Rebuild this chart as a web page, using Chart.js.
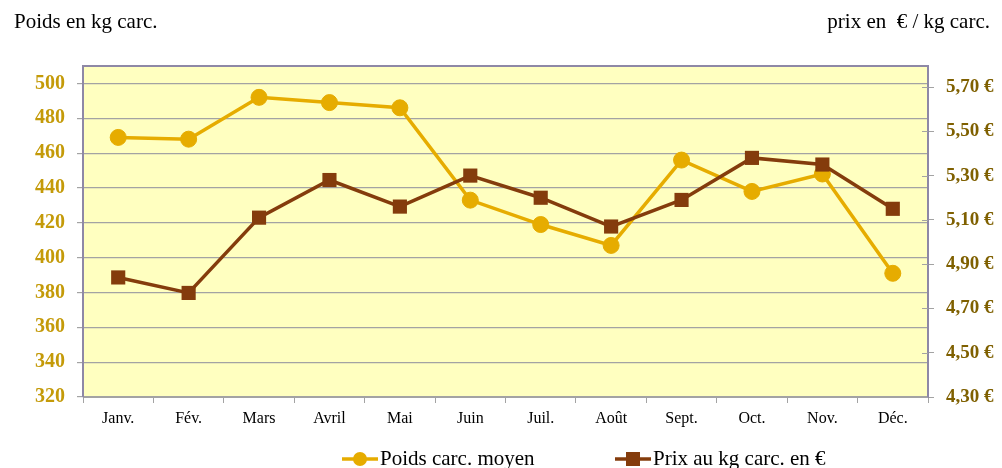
<!DOCTYPE html>
<html lang="fr">
<head>
<meta charset="utf-8">
<title>Poids et prix des carcasses</title>
<script src="https://cdn.jsdelivr.net/npm/chart.js@4/dist/chart.umd.min.js"></script>
<style>
  html, body { margin: 0; padding: 0; background: #ffffff; }
  #wrap { position: relative; width: 1002px; height: 468px; }
</style>
</head>
<body>
<div id="wrap"><canvas id="chart" width="1002" height="468"></canvas></div>
<script>
// Mois
const months = ['Janv.', 'Fév.', 'Mars', 'Avril', 'Mai', 'Juin', 'Juil.', 'Août', 'Sept.', 'Oct.', 'Nov.', 'Déc.'];
// Poids carcasse moyen (kg)
const poids = [469, 468, 492, 489, 486, 433, 419, 407, 456, 438, 448, 391];
// Prix au kg carcasse (€)
const prix = [4.84, 4.77, 5.11, 5.28, 5.16, 5.30, 5.20, 5.07, 5.19, 5.38, 5.35, 5.15];
// Graduations des deux axes
const poidsTicks = [320, 340, 360, 380, 400, 420, 440, 460, 480, 500];
const prixTicks = [4.3, 4.5, 4.7, 4.9, 5.1, 5.3, 5.5, 5.7];

const SERIF = '"Liberation Serif", "Times New Roman", serif';
const GOLD = '#E6AC00';
const BROWN = '#843C0C';
const FRAME = '#8E88A6';
const GRID = '#A3A3A3';

// Fond jaune de la zone de tracé, cadre, titres d'axes et légende
const decor = {
  id: 'decor',
  beforeDraw(chart) {
    const { ctx, chartArea: a } = chart;
    ctx.save();
    ctx.fillStyle = '#FFFFC0';
    ctx.fillRect(a.left, a.top, a.right - a.left, a.bottom - a.top);
    ctx.restore();
  },
  beforeDatasetsDraw(chart) {
    const { ctx, chartArea: a } = chart;
    ctx.save();
    ctx.strokeStyle = FRAME;
    ctx.lineWidth = 2;
    ctx.beginPath();
    ctx.moveTo(a.left, a.top);
    ctx.lineTo(a.right, a.top);
    ctx.lineTo(a.right, a.bottom);
    ctx.stroke();
    // petites graduations de l'axe de droite, côté intérieur
    const y1 = chart.scales.y1;
    ctx.strokeStyle = GRID;
    ctx.lineWidth = 1;
    y1.ticks.forEach(t => {
      const y = Math.round(y1.getPixelForValue(t.value)) + 0.5;
      ctx.beginPath();
      ctx.moveTo(a.right - 6, y);
      ctx.lineTo(a.right, y);
      ctx.stroke();
    });
    ctx.restore();
  },
  afterDraw(chart) {
    const { ctx } = chart;
    ctx.save();
    ctx.fillStyle = '#000000';
    ctx.font = '21px ' + SERIF;
    ctx.textBaseline = 'middle';
    ctx.textAlign = 'left';
    ctx.fillText('Poids en kg carc.', 14, 22);
    ctx.textAlign = 'right';
    ctx.fillText('prix en  € / kg carc.', 990, 22);

    // légende
    const items = chart.data.datasets.map(ds => ({
      label: ds.label, color: ds.borderColor, style: ds.pointStyle
    }));
    const starts = [342, 615];
    const ly = 459;
    ctx.textAlign = 'left';
    items.forEach((it, i) => {
      const x0 = starts[i];
      ctx.strokeStyle = it.color;
      ctx.fillStyle = it.color;
      ctx.lineWidth = 3.5;
      ctx.beginPath();
      ctx.moveTo(x0, ly);
      ctx.lineTo(x0 + 36, ly);
      ctx.stroke();
      if (it.style === 'circle') {
        ctx.beginPath();
        ctx.arc(x0 + 18, ly, 7, 0, Math.PI * 2);
        ctx.fill();
      } else {
        ctx.fillRect(x0 + 11, ly - 7, 14, 14);
      }
      ctx.fillStyle = '#000000';
      ctx.font = '21px ' + SERIF;
      ctx.fillText(it.label, x0 + 38, ly);
    });
    ctx.restore();
  }
};

new Chart(document.getElementById('chart'), {
  type: 'line',
  data: {
    labels: months,
    datasets: [
      {
        label: 'Poids carc. moyen',
        data: poids,
        yAxisID: 'y',
        borderColor: GOLD,
        backgroundColor: GOLD,
        borderWidth: 3.5,
        pointStyle: 'circle',
        pointRadius: 8,
        pointBorderWidth: 1,
        pointBackgroundColor: GOLD,
        pointBorderColor: GOLD,
        tension: 0,
        order: 1
      },
      {
        label: 'Prix au kg carc. en €',
        data: prix,
        yAxisID: 'y1',
        borderColor: BROWN,
        backgroundColor: BROWN,
        borderWidth: 3.5,
        pointStyle: 'rect',
        pointRadius: 10,
        pointBorderWidth: 0,
        pointBackgroundColor: BROWN,
        pointBorderColor: BROWN,
        tension: 0,
        order: 0
      }
    ]
  },
  options: {
    responsive: false,
    animation: false,
    layout: { padding: { top: 66, bottom: 41, left: 0, right: 0 } },
    plugins: {
      legend: { display: false },
      tooltip: { enabled: false },
      title: { display: false }
    },
    scales: {
      x: {
        type: 'category',
        offset: true,
        grid: {
          offset: true,
          drawOnChartArea: false,
          drawTicks: true,
          tickLength: 6,
          color: GRID
        },
        border: { color: GRID, width: 1 },
        ticks: {
          color: '#000000',
          font: { family: SERIF, size: 16 },
          padding: 6,
          maxRotation: 0,
          autoSkip: false
        },
        afterFit(s) { s.height = 30; }
      },
      y: {
        position: 'left',
        min: 320,
        max: 510,
        afterBuildTicks(s) { s.ticks = poidsTicks.map(v => ({ value: v })); },
        grid: { color: GRID, tickLength: 6, lineWidth: 1.2 },
        border: { color: FRAME, width: 2 },
        ticks: {
          color: '#C49A08',
          font: { family: SERIF, size: 20, weight: 'bold' },
          padding: 12,
          callback: v => String(v)
        },
        afterFit(s) { s.width = 83; }
      },
      y1: {
        position: 'right',
        min: 4.3,
        max: 5.795,
        afterBuildTicks(s) { s.ticks = prixTicks.map(v => ({ value: v })); },
        grid: { drawOnChartArea: false, color: GRID, tickLength: 6 },
        border: { color: FRAME, width: 2 },
        ticks: {
          color: '#7F6000',
          font: { family: SERIF, size: 19, weight: 'bold' },
          padding: 12,
          callback: v => v.toFixed(2).replace('.', ',') + ' €'
        },
        afterFit(s) { s.width = 74; }
      }
    }
  },
  plugins: [decor]
});
</script>
</body>
</html>
